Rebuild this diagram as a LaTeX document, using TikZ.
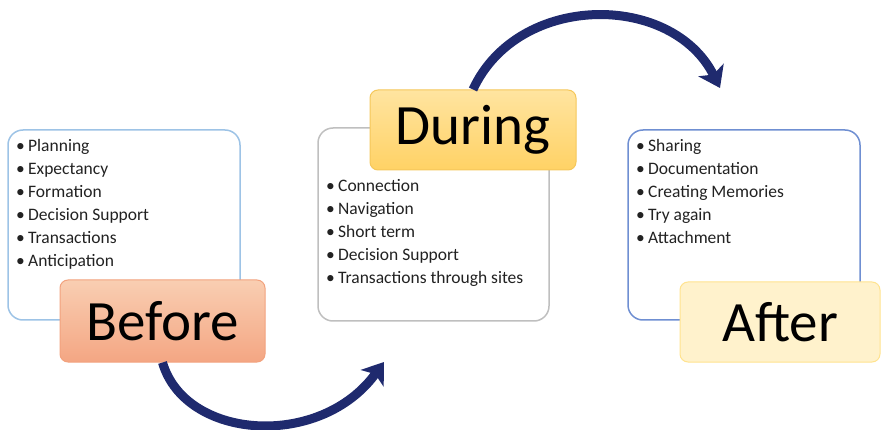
\documentclass[tikz,border=0pt]{standalone}
\usepackage{fontspec}
\setmainfont{Carlito}
\usetikzlibrary{arrows.meta}
\definecolor{arrowblue}{HTML}{1F2A6E}
\definecolor{beforeline}{HTML}{9DC3E6}
\definecolor{duringline}{HTML}{BFBFBF}
\definecolor{afterline}{HTML}{6F8FD2}
\definecolor{beforetop}{HTML}{F9CEB2}
\definecolor{beforebot}{HTML}{F4A683}
\definecolor{beforeedge}{HTML}{F2A27E}
\definecolor{duringtop}{HTML}{FFE4A0}
\definecolor{duringbot}{HTML}{FFD265}
\definecolor{duringedge}{HTML}{F5C75A}
\definecolor{afterfill}{HTML}{FFF2CC}
\definecolor{afteredge}{HTML}{FFE38F}
\definecolor{itemtext}{HTML}{222222}
\tikzset{
  listbox/.style={draw, line width=1.5pt, rounded corners=15pt, fill=white, inner sep=0},
  tagbox/.style={draw, line width=1pt, rounded corners=8pt, inner sep=0,
    font=\fontsize{57}{60}\selectfont},
  item/.style={anchor=base west, inner sep=0, text=itemtext,
    font=\fontsize{17.5}{21}\selectfont},
  cyclearrow/.style={arrowblue, line width=9pt,
    -{Stealth[length=20pt,width=28pt,inset=5pt]}}
}
\newcommand{\bulletitem}[1]{\makebox[12pt][l]{\textbullet}#1}

\begin{document}
\begin{tikzpicture}[x=1pt,y=-1pt]
\useasboundingbox (0,0) rectangle (881,430);

% list boxes
\node[listbox, draw=beforeline, minimum width=232pt, minimum height=190pt] (beforelist) at (124,225) {};
\node[listbox, draw=duringline, minimum width=231pt, minimum height=193pt] (duringlist) at (433.5,224.5) {};
\node[listbox, draw=afterline, minimum width=232pt, minimum height=190pt] (afterlist) at (744,225) {};

% items
\foreach \txt [count=\i] in {Planning,Expectancy,Formation,Decision Support,Transactions,Anticipation}
  \node[item] (bi\i) at (16,{152+23*(\i-1)}) {\bulletitem{\txt}};
\foreach \txt [count=\i] in {Connection,Navigation,Short term,Decision Support,Transactions through sites}
  \node[item] (di\i) at (326,{192+23*(\i-1)}) {\bulletitem{\txt}};
\foreach \txt [count=\i] in {Sharing,Documentation,Creating Memories,Try again,Attachment}
  \node[item] (ai\i) at (636,{152+23*(\i-1)}) {\bulletitem{\txt}};

% stage labels
\node[tagbox, draw=beforeedge, top color=beforetop, bottom color=beforebot,
  minimum width=205pt, minimum height=82pt] (before) at (162.5,321) {Before};
\node[tagbox, draw=duringedge, top color=duringtop, bottom color=duringbot,
  minimum width=206pt, minimum height=80pt] (during) at (473,130) {During};
\node[tagbox, draw=afteredge, fill=afterfill,
  minimum width=200pt, minimum height=80pt] (after) at (780,322) {After};

% arrows
\coordinate (duringin) at (384,362);
\coordinate (afterin) at (720,88);
\draw[cyclearrow] (before.south) .. controls (185,440) and (320,450) .. (duringin);
\draw[cyclearrow] (during.north) .. controls (518,-8) and (672,-8) .. (afterin);

\end{tikzpicture}
\end{document}
